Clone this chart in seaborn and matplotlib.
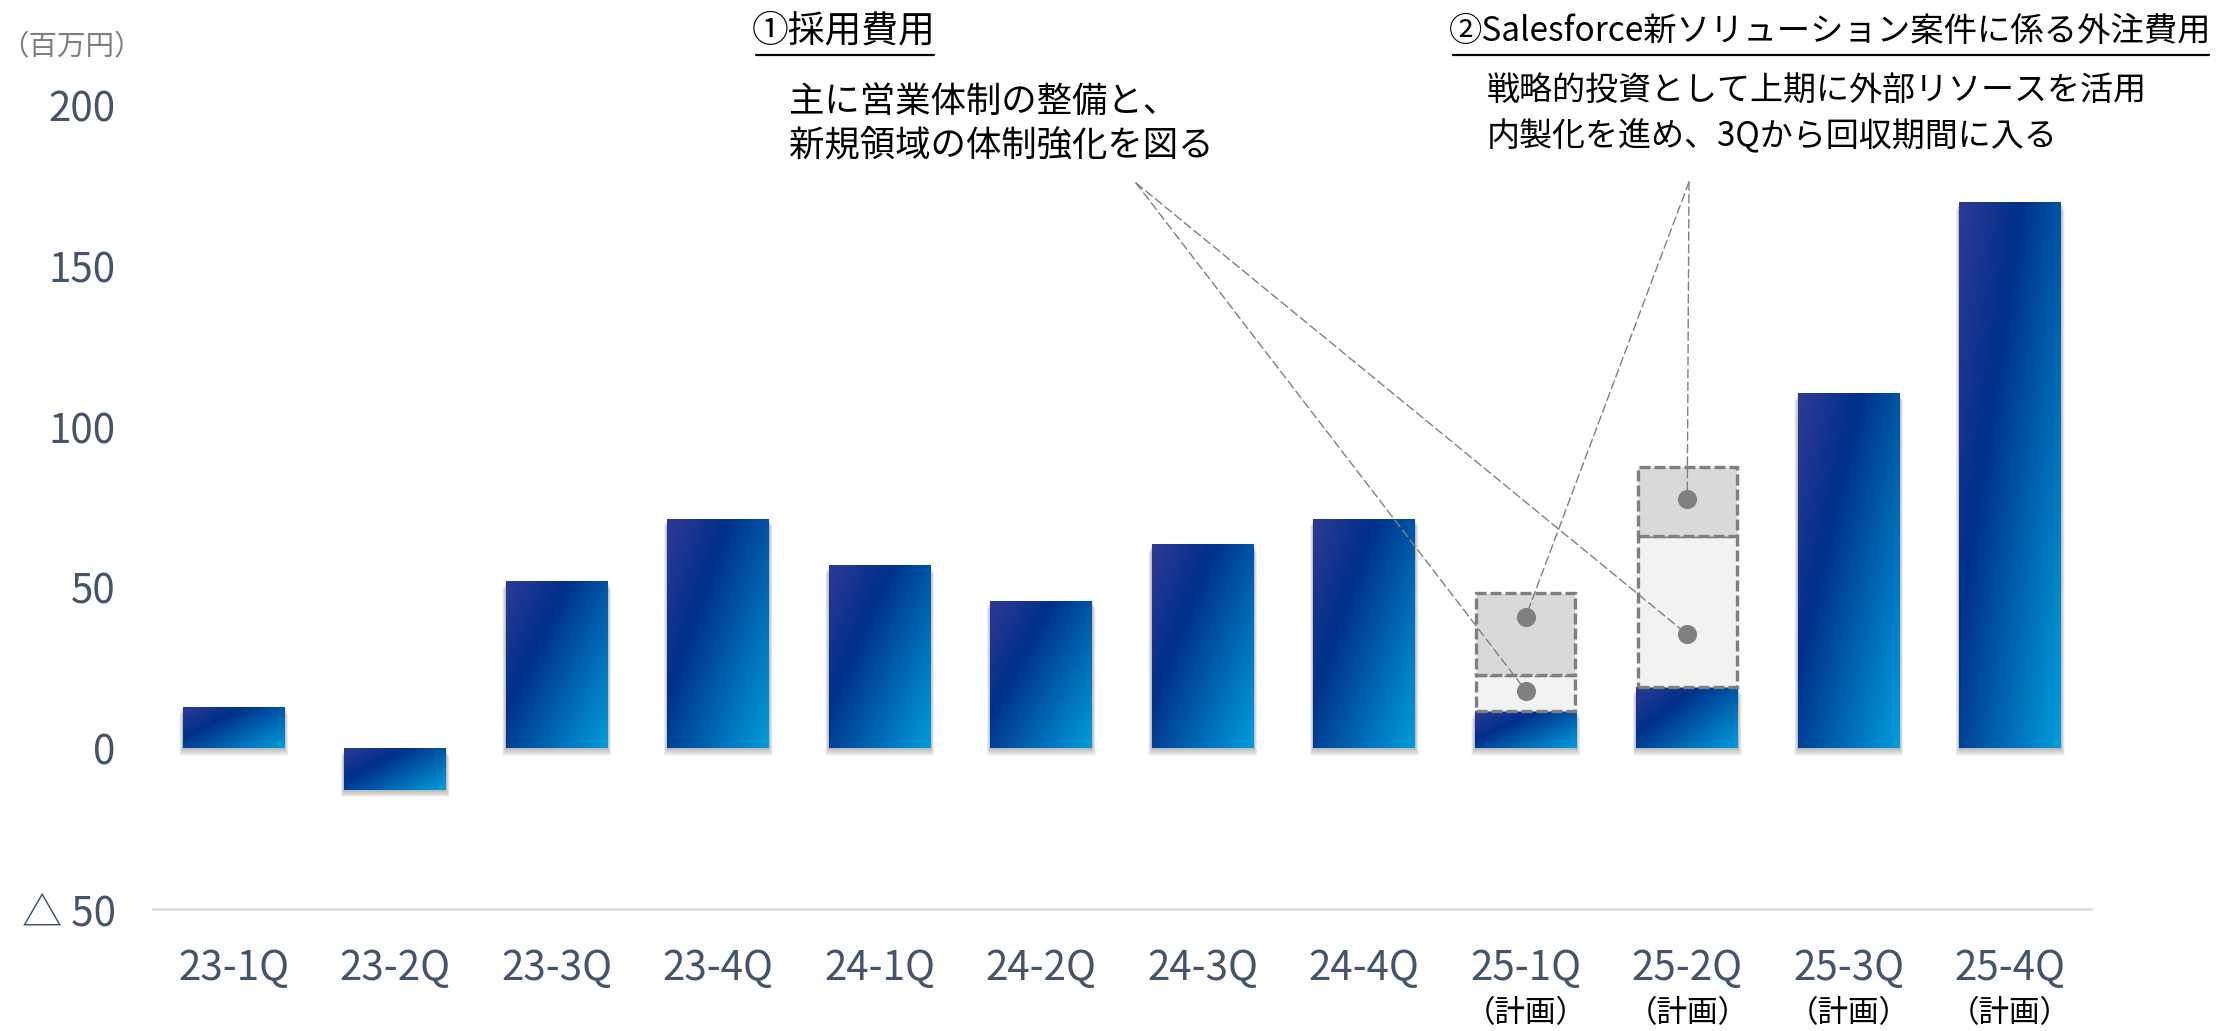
import numpy as np
import pandas as pd
import matplotlib
matplotlib.use("Agg")
import matplotlib.pyplot as plt
import seaborn as sns
from matplotlib.colors import LinearSegmentedColormap
from matplotlib.patches import Rectangle
from matplotlib.lines import Line2D
import matplotlib.transforms as mtransforms

# ---- data (百万円) ----
quarters = ["23-1Q", "23-2Q", "23-3Q", "23-4Q", "24-1Q", "24-2Q",
            "24-3Q", "24-4Q", "25-1Q", "25-2Q", "25-3Q", "25-4Q"]
is_plan = [False] * 8 + [True] * 4
profit = [13, -13, 52, 71.5, 57, 46, 63.5, 71.5, 11.5, 19, 110.5, 170]

stack_quarters = ["25-1Q", "25-2Q"]
recruit_cost = [11.5, 47]        # ①採用費用
outsource_cost = [25.5, 21.5]    # ②外注費用
recruit_marker = [18, 35.5]
outsource_marker = [41, 77.5]

y_ticks = [-50, 0, 50, 100, 150, 200]
y_tick_labels = ["△ 50", "0", "50", "100", "150", "200"]

note1_title = "①採用費用"
note1_body = ["主に営業体制の整備と、", "新規領域の体制強化を図る"]
note2_title = "②Salesforce新ソリューション案件に係る外注費用"
note2_body = ["戦略的投資として上期に外部リソースを活用", "内製化を進め、3Qから回収期間に入る"]
unit_label = "（百万円）"
plan_label = "（計画）"

# ---- style ----
sns.set_theme(style="white")
plt.rcParams["font.family"] = ["Noto Sans CJK JP", "DejaVu Sans"]

W, H = 2223, 1031
fig = plt.figure(figsize=(W / 100, H / 100), dpi=100)
fig.patch.set_facecolor("white")


def fx(px):
    return px / W


def fy(py):
    return 1 - py / H


ax = fig.add_axes([fx(153), fy(909), (2091 - 153) / W, (909 - 106) / H])

df = pd.DataFrame({"quarter": quarters, "profit": profit})
sns.barplot(data=df, x="quarter", y="profit", order=quarters, width=0.63,
            color="#003087", saturation=1, errorbar=None, ax=ax, zorder=3,
            linewidth=0)
bars = list(ax.patches)

ax.set_xlim(-0.5, 11.5)
ax.set_ylim(-50, 200)

# pixel size in data units (for the soft drop shadow)
inv = ax.transData.inverted()
p0 = inv.transform((0, 0))
p1 = inv.transform((1, 1))
pxx, pxy = p1[0] - p0[0], p1[1] - p0[1]

grad_cmap = LinearSegmentedColormap.from_list(
    "bar_grad", [(0.0, "#2E3A94"), (0.34, "#00308A"), (1.0, "#009DDB")])
u = np.linspace(0, 1, 80)[None, :]
v = np.linspace(0, 1, 300)[:, None]
grad = (u + 0.8 * v) / 1.8

for bar in bars:
    x0, w = bar.get_x(), bar.get_width()
    y0, h = bar.get_y(), bar.get_height()
    bottom, top = min(y0, y0 + h), max(y0, y0 + h)
    # soft shadow under each bar
    for i in range(1, 9):
        ax.add_patch(Rectangle((x0 - 0.45 * i * pxx, bottom - 0.9 * i * pxy),
                               w + 0.9 * i * pxx, top - bottom,
                               facecolor="black", alpha=0.035, lw=0, zorder=2))
    im = ax.imshow(grad, cmap=grad_cmap, vmin=0, vmax=1,
                   extent=(x0, x0 + w, bottom, top), origin="upper",
                   aspect="auto", interpolation="bilinear", zorder=3.1)
    im.set_clip_path(bar)

ax.set_aspect("auto")
ax.set_xlim(-0.5, 11.5)
ax.set_ylim(-50, 200)

# planned cost boxes stacked on the 25-1Q / 25-2Q bars
box_style = dict(width=0.61, edgecolor="#7F7F7F", linewidth=2.4,
                 linestyle=(0, (3.3, 1.2)), zorder=4)
for i, q in enumerate(stack_quarters):
    xi = quarters.index(q)
    base = profit[xi]
    ax.bar(xi, recruit_cost[i], bottom=base, facecolor="#F2F2F2", **box_style)
    ax.bar(xi, outsource_cost[i], bottom=base + recruit_cost[i],
           facecolor="#D9D9D9", **box_style)

xs = [quarters.index(q) for q in stack_quarters]
ax.scatter(xs + xs, recruit_marker + outsource_marker, s=190,
           color="#808080", zorder=6, linewidths=0)

# leader lines from the notes to the markers
lead = dict(arrowstyle="-", color="#808080", lw=1.0,
            linestyle=(0, (6, 3)), shrinkA=0, shrinkB=0)
for xi, yv in zip(xs, recruit_marker):
    ax.annotate("", xy=(xi, yv), xycoords="data",
                xytext=(1136, H - 183), textcoords="figure pixels",
                arrowprops=lead, zorder=5)
for xi, yv in zip(xs, outsource_marker):
    ax.annotate("", xy=(xi, yv), xycoords="data",
                xytext=(1689, H - 182), textcoords="figure pixels",
                arrowprops=lead, zorder=5)

# axes styling
for s in ["top", "right", "left"]:
    ax.spines[s].set_visible(False)
ax.spines["bottom"].set_color("#D9DDE1")
ax.spines["bottom"].set_linewidth(2)
ax.grid(False)
ax.set_xlabel("")
ax.set_ylabel("")
ax.set_yticks(y_ticks, y_tick_labels)
ax.tick_params(axis="y", length=0, pad=27, labelsize=29, labelcolor="#44546A")
ax.tick_params(axis="x", length=0, pad=28, labelsize=29, labelcolor="#44546A")

xfig = mtransforms.blended_transform_factory(ax.transData, fig.transFigure)
for i, flag in enumerate(is_plan):
    if flag:
        ax.text(i, fy(1014), plan_label, transform=xfig, ha="center",
                va="center", fontsize=22, color="black")

# unit label
fig.text(fx(0), fy(47), unit_label, fontsize=20.5, color="#7F7F7F",
         ha="left", va="center")

# notes
renderer = fig.canvas.get_renderer()


def heading(x, y, s, size):
    t = fig.text(fx(x), fy(y), s, fontsize=size, color="black",
                 ha="left", va="center")
    bb = t.get_window_extent(renderer)
    fig.add_artist(Line2D([bb.x0 / W + 0.002, bb.x1 / W - 0.001],
                          [fy(55), fy(55)], color="black", lw=1.6))


heading(752, 31, note1_title, 26.5)
fig.text(fx(789), fy(102), note1_body[0], fontsize=25.5, ha="left",
         va="center", color="black")
fig.text(fx(789), fy(145), note1_body[1], fontsize=25.5, ha="left",
         va="center", color="black")

heading(1449, 31, note2_title, 24)
fig.text(fx(1487), fy(91), note2_body[0], fontsize=23.8, ha="left",
         va="center", color="black")
fig.text(fx(1487), fy(136), note2_body[1], fontsize=23.8, ha="left",
         va="center", color="black")

fig.savefig("out.png", dpi=100, facecolor="white")
